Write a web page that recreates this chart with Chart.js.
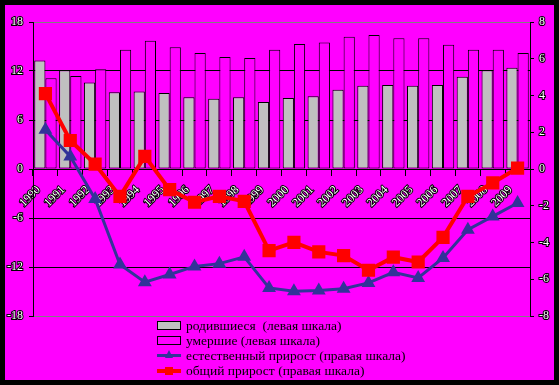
<!DOCTYPE html>
<html>
<head>
<meta charset="utf-8">
<script src="https://cdn.jsdelivr.net/npm/chart.js"></script>
<style>
  body { margin: 0; background: #000; width: 559px; height: 385px; overflow: hidden; }
  #wrap { position: absolute; left: 5px; top: 5px; width: 549px; height: 375px; background: #ff00ff; }
  #legend { position: absolute; left: 152px; top: 313px; font: 13.5px "Liberation Serif", serif; color: #000; }
  .item { height: 15px; line-height: 15px; position: relative; padding-left: 29px; white-space: pre; }
  .ico { position: absolute; left: 0; top: 3px; width: 24px; height: 9px; }
  .box { box-sizing: border-box; border: 1px solid #000; }
  .ln { position: absolute; left: 0; width: 24px; }
  .mk { position: absolute; }
</style>
</head>
<body>
<div id="wrap">
  <canvas id="c" width="549" height="375"></canvas>
  <div id="legend"></div>
</div>
<script>
// --- データ ---
const years = ['1990', '1991', '1992', '1993', '1994', '1995', '1996', '1997', '1998', '1999',
    '2000', '2001', '2002', '2003', '2004', '2005', '2006', '2007', '2008', '2009'];
const births = [13.3, 12.1, 10.6, 9.4, 9.5, 9.3, 8.8, 8.6, 8.8, 8.2,
    8.7, 8.9, 9.7, 10.2, 10.3, 10.2, 10.3, 11.3, 12.1, 12.4];
const deaths = [11.1, 11.4, 12.2, 14.6, 15.7, 14.9, 14.2, 13.7, 13.6, 14.6,
    15.3, 15.5, 16.2, 16.4, 16.0, 16.0, 15.2, 14.6, 14.6, 14.2];
const naturalGrowth = [2.13, 0.68, -1.63, -5.2, -6.16, -5.74, -5.3, -5.15, -4.78, -6.47,
    -6.65, -6.61, -6.52, -6.2, -5.62, -5.93, -4.84, -3.3, -2.58, -1.85];
const totalGrowth = [4.1, 1.55, 0.27, -1.49, 0.69, -1.12, -1.81, -1.49, -1.76, -4.44,
    -3.99, -4.51, -4.71, -5.51, -4.8, -5.06, -3.72, -1.49, -0.76, 0.05];

const seriesNames = [
    'родившиеся  (левая шкала)',
    'умершие (левая шкала)',
    'естественный прирост (правая шкала)',
    'общий прирост (правая шкала)'
];

const tickFont = { family: '"Liberation Serif", serif', size: 12 };
const tickStyle = { color: '#fff', textStrokeColor: '#000', textStrokeWidth: 2, font: tickFont };

const chart = new Chart(document.getElementById('c').getContext('2d'), {
    data: {
        labels: years,
        datasets: [
            {
                type: 'bar', label: seriesNames[0], data: births, yAxisID: 'y', order: 2,
                backgroundColor: '#c0c0c0', borderColor: '#000', borderWidth: 1, borderSkipped: false,
                categoryPercentage: 0.9, barPercentage: 1.0
            },
            {
                type: 'bar', label: seriesNames[1], data: deaths, yAxisID: 'y', order: 2,
                backgroundColor: '#ff00ff', borderColor: '#000', borderWidth: 1, borderSkipped: false,
                categoryPercentage: 0.9, barPercentage: 1.0
            },
            {
                type: 'line', label: seriesNames[2], data: naturalGrowth, yAxisID: 'y1', order: 1,
                borderColor: '#333399', backgroundColor: '#333399', borderWidth: 3,
                pointStyle: 'triangle', pointRadius: 5, tension: 0
            },
            {
                type: 'line', label: seriesNames[3], data: totalGrowth, yAxisID: 'y1', order: 0,
                borderColor: '#ff0000', backgroundColor: '#ff0000', borderWidth: 4,
                pointStyle: 'rect', pointRadius: 6.5, tension: 0
            }
        ]
    },
    options: {
        responsive: false,
        animation: false,
        devicePixelRatio: 1,
        layout: { padding: { top: 17, bottom: 64, left: 0, right: 0 } },
        plugins: { legend: { display: false }, tooltip: { enabled: false } },
        scales: {
            x: {
                position: { y: 0 },
                offset: true,
                grid: { drawOnChartArea: false, offset: true, color: '#000', tickLength: 6 },
                border: { color: '#000', width: 1 },
                ticks: Object.assign({
                    minRotation: 45, maxRotation: 45, padding: 8, labelOffset: -7, autoSkip: false
                }, tickStyle)
            },
            y: {
                position: 'left',
                min: -18, max: 18,
                afterFit: s => { s.width = 28; },
                grid: {
                    color: ctx => Math.abs(ctx.tick.value) === 18 ? '#808080' : '#000',
                    tickColor: '#000', tickLength: 4, lineWidth: 1
                },
                border: { color: '#000', width: 1 },
                ticks: Object.assign({ stepSize: 6, padding: 6 }, tickStyle)
            },
            y1: {
                position: 'right',
                min: -8, max: 8,
                afterFit: s => { s.width = 24; },
                grid: { drawOnChartArea: false, color: '#000', tickLength: 4 },
                border: { color: '#000', width: 1 },
                ticks: Object.assign({ stepSize: 2, padding: 5 }, tickStyle)
            }
        }
    }
});

// --- 凡例 (HTML) ---
const legendEl = document.getElementById('legend');
const icons = [
    '<div class="ico box" style="background:#c0c0c0"></div>',
    '<div class="ico box" style="background:#ff00ff"></div>',
    '<div class="ico"><div class="ln" style="top:3px;height:3px;background:#333399"></div>' +
        '<div class="mk" style="left:8px;top:-1px;width:0;height:0;border-left:4px solid transparent;border-right:4px solid transparent;border-bottom:8px solid #333399"></div></div>',
    '<div class="ico"><div class="ln" style="top:3px;height:4px;background:#ff0000"></div>' +
        '<div class="mk" style="left:8px;top:1px;width:8px;height:8px;background:#ff0000"></div></div>'
];
seriesNames.forEach((name, i) => {
    const row = document.createElement('div');
    row.className = 'item';
    row.innerHTML = icons[i];
    row.appendChild(document.createTextNode(name));
    legendEl.appendChild(row);
});
</script>
</body>
</html>
